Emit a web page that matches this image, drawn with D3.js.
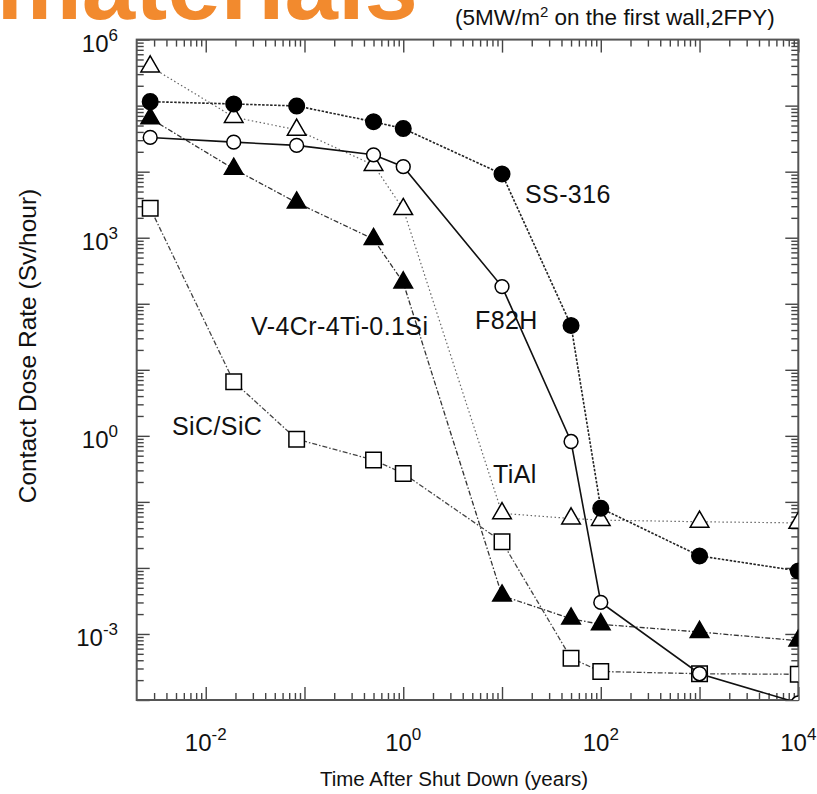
<!DOCTYPE html>
<html>
<head>
<meta charset="utf-8">
<script src="https://cdn.jsdelivr.net/npm/d3@7"></script>
<style>
  body { margin: 0; background: #fff; }
  text { font-family: "Liberation Sans", Arial, Helvetica, sans-serif; fill: #111; }
</style>
</head>
<body>
<svg id="chart" width="817" height="794"></svg>
<script>
// time after shut down (years): 1 day, 1 week, 1 month, 0.5y, 1y, 10y ... 10^4 y
const years = [0.00274, 0.0192, 0.0833, 0.5, 1, 10, 50, 100, 1000, 10000];

// contact dose rate (Sv/hour)
const ss316 = [1.15e5, 1.06e5, 9.9e4, 5.7e4, 4.5e4, 9.2e3, 47, 0.080, 0.0152, 0.0090];
const f82h  = [3.3e4, 2.8e4, 2.5e4, 1.8e4, 1.19e4, 182, 0.82, 0.003, 2.5e-4, 9e-5];
const tial  = [3.9e5, 6.7e4, 4.3e4, 1.26e4, 2.7e3, 0.067, 0.056, 0.053, 0.050, 0.048];
const vcrti = [6.4e4, 1.1e4, 3.4e3, 950, 209, 0.0038, 0.0017, 0.0014, 0.00107, 0.00079];
const sic   = [2.8e3, 6.6, 0.89, 0.43, 0.27, 0.025, 4.3e-4, 2.7e-4, 2.5e-4, 2.45e-4];

const xTickLabels = [-2, 0, 2, 4];
const yTickLabels = [-3, 0, 3, 6];

const svg = d3.select('#chart');
const plotL = 136.7, plotR = 798.3, plotT = 39.6, plotB = 700;

const x = d3.scaleLog().domain([0.002, 1e4]).range([plotL, plotR]);
const y = d3.scaleLog().domain([1e-4, 1e6]).range([plotB, plotT]);

// slide title, cut off at the top
svg.append('text')
    .attr('x', 418).attr('y', 19)
    .attr('text-anchor', 'end')
    .style('font-size', '96px').style('font-weight', 'bold')
    .style('fill', '#f28a2e')
    .text('materials');

svg.append('text')
    .attr('x', 455).attr('y', 25)
    .style('font-size', '22.5px')
    .html('(5MW/m<tspan dy="-8" style="font-size:15px">2</tspan><tspan dy="8"> on the first wall,2FPY)</tspan>');

svg.append('defs').append('clipPath').attr('id', 'plot')
    .append('rect')
    .attr('x', plotL).attr('y', plotT)
    .attr('width', plotR - plotL).attr('height', plotB - plotT);

// tick values
let xMajor = [], xMinor = [], yMajor = [], yMinor = [];
for (let e = -3; e <= 4; e++) {
    if (e >= -2) xMajor.push(Math.pow(10, e));
    for (let m = 2; m < 10; m++) {
        let v = m * Math.pow(10, e);
        if (v > 0.002 && v < 1e4) xMinor.push(v);
    }
}
for (let e = -4; e <= 6; e++) {
    yMajor.push(Math.pow(10, e));
    if (e < 6) for (let m = 2; m < 10; m++) yMinor.push(m * Math.pow(10, e));
}

function tickGroup(axis, tx, ty) {
    let g = svg.append('g')
        .attr('transform', 'translate(' + tx + ',' + ty + ')')
        .call(axis);
    g.select('.domain').remove();
    g.selectAll('line').attr('stroke', '#444').attr('stroke-width', 1.4);
}

tickGroup(d3.axisBottom(x).tickValues(xMajor).tickSize(-13).tickFormat(''), 0, plotB);
tickGroup(d3.axisBottom(x).tickValues(xMinor).tickSize(-7).tickFormat(''), 0, plotB);
tickGroup(d3.axisTop(x).tickValues(xMajor).tickSize(-13).tickFormat(''), 0, plotT);
tickGroup(d3.axisTop(x).tickValues(xMinor).tickSize(-7).tickFormat(''), 0, plotT);
tickGroup(d3.axisLeft(y).tickValues(yMajor).tickSize(-13).tickFormat(''), plotL, 0);
tickGroup(d3.axisLeft(y).tickValues(yMinor).tickSize(-7).tickFormat(''), plotL, 0);
tickGroup(d3.axisRight(y).tickValues(yMajor).tickSize(-13).tickFormat(''), plotR, 0);
tickGroup(d3.axisRight(y).tickValues(yMinor).tickSize(-7).tickFormat(''), plotR, 0);

svg.append('rect')
    .attr('x', plotL).attr('y', plotT)
    .attr('width', plotR - plotL).attr('height', plotB - plotT)
    .attr('fill', 'none').attr('stroke', '#555').attr('stroke-width', 2);

// tick labels
svg.selectAll('.xlab').data(xTickLabels).enter().append('text')
    .attr('x', d => x(Math.pow(10, d)))
    .attr('y', 751)
    .attr('text-anchor', 'middle')
    .style('font-size', '24px')
    .html(d => '10<tspan dy="-11" style="font-size:17px">' + d + '</tspan>');

svg.selectAll('.ylab').data(yTickLabels).enter().append('text')
    .attr('x', 118)
    .attr('y', d => y(Math.pow(10, d)) + 12)
    .attr('text-anchor', 'end')
    .style('font-size', '24px')
    .html(d => '10<tspan dy="-11" style="font-size:17px">' + d + '</tspan>');

svg.append('text')
    .attr('x', 454).attr('y', 786)
    .attr('text-anchor', 'middle')
    .style('font-size', '20.5px')
    .text('Time After Shut Down (years)');

svg.append('text')
    .attr('transform', 'translate(36,346) rotate(-90)')
    .attr('text-anchor', 'middle')
    .style('font-size', '24.5px')
    .text('Contact Dose Rate (Sv/hour)');

// series, drawn back to front
const series = [
    {values: tial,  stroke: '#666', width: 1.2, dash: '1.5,2.5', shape: d3.symbolTriangle, size: 150, fill: '#fff'},
    {values: vcrti, stroke: '#333', width: 1.3, dash: '5,2,1.5,2', shape: d3.symbolTriangle, size: 150, fill: '#000'},
    {values: sic,   stroke: '#444', width: 1.3, dash: '5,2,1.5,2', shape: d3.symbolSquare, size: 240, fill: '#fff'},
    {values: f82h,  stroke: '#111', width: 1.6, dash: null, shape: d3.symbolCircle, size: 150, fill: '#fff'},
    {values: ss316, stroke: '#222', width: 1.6, dash: '2.5,1.5', shape: d3.symbolCircle, size: 190, fill: '#000'}
];

const line = d3.line().x(d => x(d[0])).y(d => y(d[1]));
const plot = svg.append('g').attr('clip-path', 'url(#plot)');

series.forEach(s => {
    let pts = years.map((t, i) => [t, s.values[i]]);
    plot.append('path')
        .datum(pts)
        .attr('d', line)
        .attr('fill', 'none')
        .attr('stroke', s.stroke)
        .attr('stroke-width', s.width)
        .attr('stroke-dasharray', s.dash);
    plot.selectAll(null).data(pts).enter().append('path')
        .attr('transform', d => 'translate(' + x(d[0]) + ',' + y(d[1]) + ')')
        .attr('d', d3.symbol().type(s.shape).size(s.size))
        .attr('fill', s.fill)
        .attr('stroke', '#000')
        .attr('stroke-width', 1.5);
});

// series names
const names = ['SS-316', 'F82H', 'V-4Cr-4Ti-0.1Si', 'SiC/SiC', 'TiAl'];
const nameX = [525, 475, 251, 172, 493];
const nameY = [203, 329, 335, 435, 483];
svg.selectAll('.name').data(names).enter().append('text')
    .attr('x', (d, i) => nameX[i])
    .attr('y', (d, i) => nameY[i])
    .style('font-size', '25px')
    .style('letter-spacing', '0.4px')
    .text(d => d);
</script>
</body>
</html>
